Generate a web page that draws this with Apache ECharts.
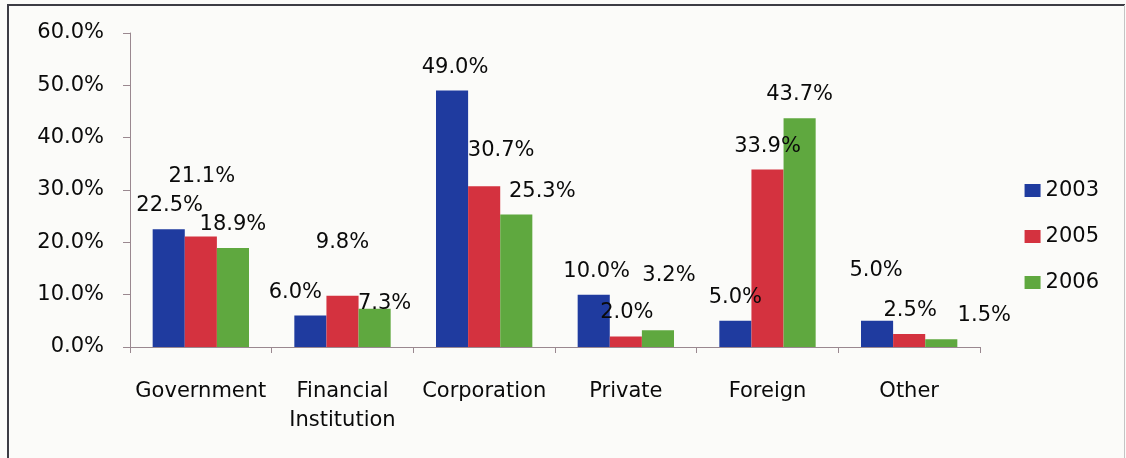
<!DOCTYPE html>
<html>
<head>
<meta charset="utf-8">
<script src="https://cdn.jsdelivr.net/npm/echarts@6/dist/echarts.min.js"></script>
<style>
  html, body { margin: 0; padding: 0; background: #fbfbf9; }
  #chart { width: 1126px; height: 458px; }
</style>
</head>
<body>
<div id="chart"></div>
<script>
// Investor categories and their share (%) per year
const categories = ['Government', 'Financial\nInstitution', 'Corporation', 'Private', 'Foreign', 'Other'];
const years = ['2003', '2005', '2006'];
const share2003 = [22.5, 6.0, 49.0, 10.0, 5.0, 5.0];
const share2005 = [21.1, 9.8, 30.7, 2.0, 33.9, 2.5];
const share2006 = [18.9, 7.3, 25.3, 3.2, 43.7, 1.5];
const yTicks = [0, 10, 20, 30, 40, 50, 60];

// Hand-placed nudges [dx, dy] for the value labels, per series
const labelNudge = [
  [[1, 0], [-15, 0], [3, 0], [3, 0], [0, 0], [-1, -27]],
  [[1, -37], [0, -30], [17, -12], [1, 0], [0, 0], [1, 0]],
  [[0, 0], [10, 18], [26, 0], [11, -31], [0, 0], [43, 0]]
];

const colors = ['#1f3b9f', '#d4323f', '#5fa83f'];
const FONT = 'DejaVu Sans';
const TEXT = '#0a0a0a';
const seriesValues = [share2003, share2005, share2006];

const series = seriesValues.map((vals, si) => ({
  name: years[si],
  type: 'bar',
  barGap: '0%',
  barCategoryGap: '32%',
  itemStyle: { color: colors[si] },
  data: vals.map((v, i) => ({
    value: v,
    label: { offset: labelNudge[si][i] }
  })),
  label: {
    show: true,
    position: 'top',
    distance: 13,
    color: TEXT,
    fontFamily: FONT,
    fontSize: 21,
    formatter: p => p.value.toFixed(1) + '%'
  }
}));

const chart = echarts.init(document.getElementById('chart'), null, { renderer: 'canvas' });
chart.setOption({
  backgroundColor: '#fbfbf9',
  animation: false,
  textStyle: { fontFamily: FONT },
  // Frame: dark top and left edges, light right edge
  graphic: [
    { type: 'line', shape: { x1: 7, y1: 5, x2: 1125, y2: 5 },
      style: { stroke: '#3c3c44', lineWidth: 2 }, silent: true },
    { type: 'line', shape: { x1: 8, y1: 4, x2: 8, y2: 458 },
      style: { stroke: '#3c3c44', lineWidth: 2 }, silent: true },
    { type: 'line', shape: { x1: 1124.5, y1: 5, x2: 1124.5, y2: 458 },
      style: { stroke: '#c4c4c4', lineWidth: 1 }, silent: true }
  ],
  grid: { left: 130, right: 146, top: 33, bottom: 111 },
  legend: {
    orient: 'vertical',
    right: 22,
    top: 175,
    itemWidth: 16,
    itemHeight: 13,
    itemGap: 25,
    icon: 'rect',
    data: years,
    textStyle: { fontFamily: FONT, fontSize: 21, color: TEXT }
  },
  xAxis: {
    type: 'category',
    data: categories,
    axisLine: { lineStyle: { color: '#9a8890', width: 1 } },
    axisTick: { show: true, length: 6, alignWithLabel: false, lineStyle: { color: '#9a8890' } },
    axisLabel: {
      interval: 0,
      margin: 30,
      color: TEXT,
      fontFamily: FONT,
      fontSize: 21,
      lineHeight: 29
    }
  },
  yAxis: {
    type: 'value',
    min: yTicks[0],
    max: yTicks[yTicks.length - 1],
    interval: yTicks[1] - yTicks[0],
    splitLine: { show: false },
    axisLine: { show: true, lineStyle: { color: '#9a8890', width: 1 } },
    axisTick: { show: true, length: 7, inside: false, lineStyle: { color: '#9a8890' } },
    axisLabel: {
      margin: 26,
      color: TEXT,
      fontFamily: FONT,
      fontSize: 21,
      formatter: v => v.toFixed(1) + '%'
    }
  },
  series: series
});
</script>
</body>
</html>
